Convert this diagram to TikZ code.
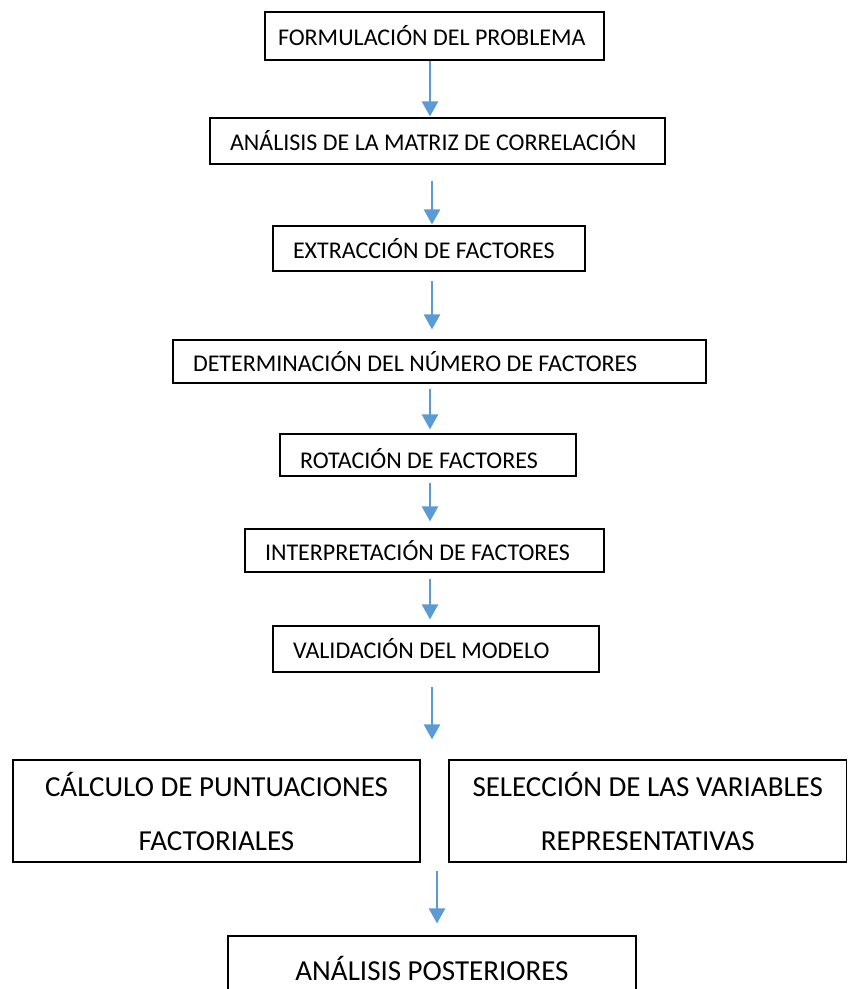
\documentclass[tikz,border=0pt]{standalone}
\usepackage{fontspec}
\setmainfont{Carlito}
\usetikzlibrary{arrows.meta}
\definecolor{flowblue}{HTML}{5B9BD5}
\begin{document}
\begin{tikzpicture}[
    x=1pt,
    y=1pt,
    box/.style={draw, line width=1.1pt, inner xsep=20pt, inner ysep=0pt, align=flush left,
        font=\fontsize{24}{28}\selectfont},
    bigbox/.style={draw, line width=1.1pt, align=center,
        font=\fontsize{29}{54}\selectfont},
    flow/.style={-{Triangle[width=16pt,length=15pt]}, draw=flowblue, line width=2.4pt}
]
\clip (0,0) rectangle (847,-989);
\node[box, inner xsep=13pt, text width=313pt, minimum height=48pt] (form) at (434.5,-36) {FORMULACIÓN DEL PROBLEMA};
\node[box, text width=415pt, minimum height=46pt] (matriz) at (437.5,-141) {ANÁLISIS DE LA MATRIZ DE CORRELACIÓN};
\node[box, text width=272pt, minimum height=45pt] (extr) at (429,-248.5) {EXTRACCIÓN DE FACTORES};
\node[box, text width=493pt, minimum height=43pt] (num) at (439.5,-361.5) {DETERMINACIÓN DEL NÚMERO DE FACTORES};
\node[box, text width=256pt, minimum height=42pt, text height=27pt, text depth=0pt] (rot) at (428,-455) {ROTACIÓN DE FACTORES};
\node[box, text width=319pt, minimum height=43pt] (interp) at (424.5,-550.5) {INTERPRETACIÓN DE FACTORES};
\node[box, text width=286pt, minimum height=46pt] (valid) at (436,-649) {VALIDACIÓN DEL MODELO};
\node[bigbox, minimum width=407pt, minimum height=102pt] (punt) at (216.5,-811) {CÁLCULO DE PUNTUACIONES\\FACTORIALES};
\node[bigbox, minimum width=397.5pt, minimum height=102pt] (sel) at (647.75,-811) {SELECCIÓN DE LAS VARIABLES\\REPRESENTATIVAS};
\node[bigbox, minimum width=408pt, minimum height=64pt] (post) at (432,-968) {ANÁLISIS POSTERIORES};

\draw[flow, shorten >=1pt] (form.south -| 430,0) -- (matriz.north -| 430,0);
\draw[flow, shorten <=16pt, shorten >=1pt] (matriz.south -| 432,0) -- (extr.north -| 432,0);
\draw[flow, shorten <=9pt, shorten >=10pt] (extr.south -| 432,0) -- (num.north -| 432,0);
\draw[flow, shorten <=5pt, shorten >=4pt] (num.south -| 430,0) -- (rot.north -| 430,0);
\draw[flow, shorten <=6pt, shorten >=7pt] (rot.south -| 430,0) -- (interp.north -| 430,0);
\draw[flow, shorten <=6pt, shorten >=6pt] (interp.south -| 430,0) -- (valid.north -| 430,0);
\draw[flow, shorten <=14pt, shorten >=20pt] (valid.south -| 432,0) -- (punt.north -| 432,0);
\draw[flow, shorten <=8pt, shorten >=12pt] (punt.south -| 437,0) -- (post.north -| 437,0);
\end{tikzpicture}
\end{document}
